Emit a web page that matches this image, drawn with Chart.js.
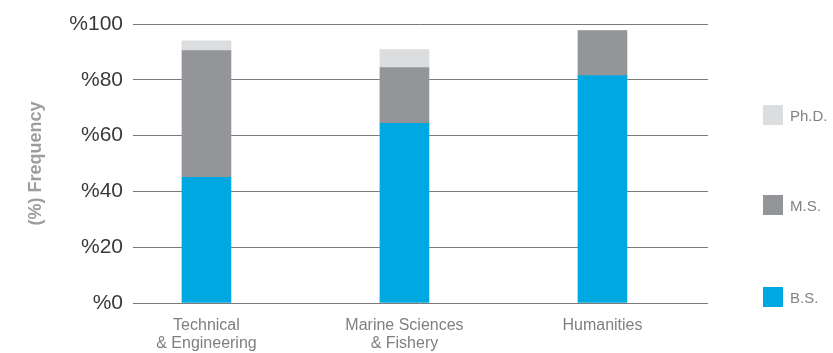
<!DOCTYPE html>
<html>
<head>
<meta charset="utf-8">
<script src="https://cdn.jsdelivr.net/npm/chart.js@4"></script>
<style>
  html, body { margin: 0; padding: 0; background: #fff; }
  #wrap { width: 833px; height: 353px; position: relative; }
</style>
</head>
<body>
<div id="wrap"><canvas id="chart"></canvas></div>
<script>
// データ
const categories = [['Technical', '& Engineering'], ['Marine Sciences', '& Fishery'], 'Humanities'];
const seriesNames = ['B.S.', 'M.S.', 'Ph.D.'];
const bsValues = [45, 64.4, 81.5];
const msValues = [45.5, 20, 16.1];
const phdValues = [3.5, 6.4, 0];
const yTicks = [0, 20, 40, 60, 80, 100];

const colors = ['#00a8e1', '#939598', '#dcddde'];

// 凡例（右側に縦並び）
const sideLegend = {
    id: 'sideLegend',
    afterDraw(chart) {
        const ctx = chart.ctx;
        const rows = [[2, 105], [1, 195], [0, 287]];
        ctx.save();
        ctx.font = '15px "Liberation Sans", Arial, sans-serif';
        ctx.textBaseline = 'middle';
        rows.forEach(([i, y]) => {
            ctx.fillStyle = colors[i];
            ctx.fillRect(763, y, 20, 20);
            ctx.fillStyle = '#808285';
            ctx.fillText(seriesNames[i], 790, y + 12);
        });
        ctx.restore();
    }
};

const toPoints = arr => arr.map((v, i) => ({ x: i, y: v }));

const ctx = document.getElementById('chart').getContext('2d');
new Chart(ctx, {
    type: 'bar',
    data: {
        datasets: [
            { label: seriesNames[0], data: toPoints(bsValues), backgroundColor: colors[0] },
            { label: seriesNames[1], data: toPoints(msValues), backgroundColor: colors[1] },
            { label: seriesNames[2], data: toPoints(phdValues), backgroundColor: colors[2] }
        ].map(d => Object.assign(d, { barThickness: 49, borderWidth: 0 }))
    },
    options: {
        responsive: true,
        maintainAspectRatio: false,
        animation: false,
        layout: { padding: { top: 24, right: 125, bottom: 0, left: 0 } },
        plugins: {
            legend: { display: false },
            tooltip: { enabled: false }
        },
        scales: {
            x: {
                type: 'linear',
                stacked: true,
                offset: false,
                min: -0.371,
                max: 2.533,
                grid: { display: false },
                border: { display: false },
                afterBuildTicks: scale => { scale.ticks = [0, 1, 2].map(v => ({ value: v })); },
                afterFit: scale => { scale.height = 50; },
                ticks: {
                    padding: 5,
                    autoSkip: false,
                    maxRotation: 0,
                    color: '#7d7f82',
                    font: { family: '"Liberation Sans", Arial, sans-serif', size: 16, lineHeight: 1.15 },
                    callback: v => categories[v]
                }
            },
            y: {
                stacked: true,
                min: 0,
                max: 100,
                afterBuildTicks: scale => { scale.ticks = yTicks.map(v => ({ value: v })); },
                afterFit: scale => { scale.width = 133; },
                grid: { color: '#7a7a7a', lineWidth: 1, drawTicks: false },
                border: { display: false },
                ticks: {
                    padding: 10,
                    color: '#3a3a3a',
                    font: { family: '"Liberation Sans", Arial, sans-serif', size: 21 },
                    callback: v => '%' + v
                },
                title: {
                    display: true,
                    text: '(%) Frequency',
                    color: '#9d9d9d',
                    padding: { top: 25, bottom: 0 },
                    font: { family: '"Liberation Sans", Arial, sans-serif', size: 18, weight: 'bold' }
                }
            }
        }
    },
    plugins: [sideLegend]
});
</script>
</body>
</html>
